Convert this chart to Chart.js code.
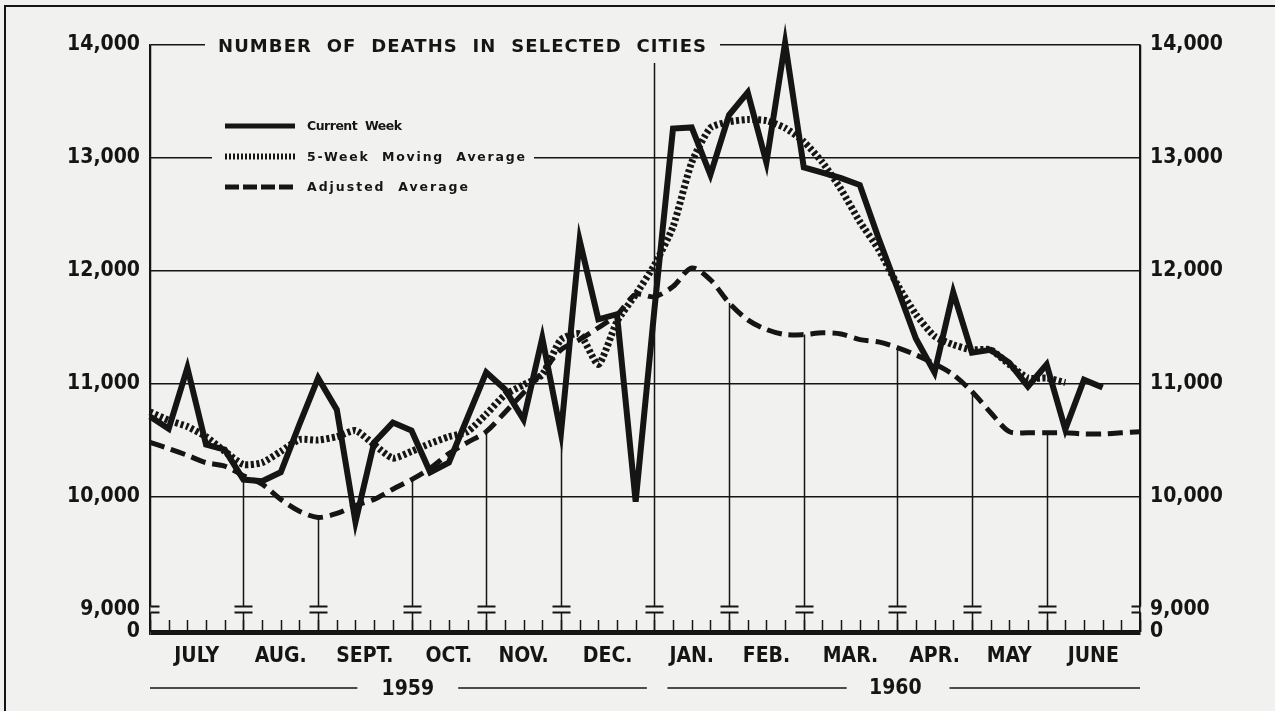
<!DOCTYPE html>
<html lang="en">
<head>
<meta charset="UTF-8">
<title>Number of Deaths in Selected Cities</title>
<script src="https://cdn.jsdelivr.net/npm/chart.js"></script>
<style>
  html, body { margin: 0; padding: 0; background: #f1f1ef; }
  #wrap { position: relative; width: 1275px; height: 711px; }
</style>
</head>
<body>
<div id="wrap"><canvas id="deaths" width="1275" height="711"></canvas></div>
<script>
// weekly values, week 0 = first week of July 1959
const currentWeek = [10710, 10600, 11140, 10460, 10415, 10150, 10135, 10215, 10640, 11050,
  10770, 9775, 10480, 10655, 10585, 10215, 10300, 10700, 11100, 10950,
  10680, 11405, 10560, 12270, 11570, 11615, 9955, 11650, 13260, 13270,
  12850, 13380, 13580, 12960, 14020, 12915, 12870, 12820, 12760, 12290,
  11850, 11400, 11100, 11810, 11275, 11300, 11185, 10975, 11170, 10595,
  11035, 10965];
const movingAvg = [10750, 10675, 10620, 10530, 10400, 10285, 10300, 10400, 10505, 10500,
  10530, 10585, 10460, 10340, 10400, 10470, 10530, 10575, 10730, 10900,
  10990, 11080, 11390, 11440, 11170, 11550, 11790, 12050, 12390, 12960,
  13265, 13320, 13340, 13330, 13265, 13145, 12960, 12720, 12435, 12190,
  11880, 11615, 11420, 11345, 11300, 11300, 11170, 11050, 11050, 11010];
const adjustedAvg = [10480, 10425, 10365, 10300, 10270, 10185, 10110, 9975, 9870, 9815,
  9850, 9920, 9975, 10065, 10150, 10250, 10380, 10480, 10575, 10745,
  10920, 11100, 11300, 11390, 11495, 11610, 11790, 11770, 11860, 12025,
  11920, 11715, 11565, 11480, 11435, 11435, 11450, 11440, 11390, 11370,
  11320, 11255, 11175, 11080, 10930, 10745, 10575, 10565, 10565, 10565,
  10555, 10555, 10565, 10575];

const monthLabels = ['JULY', 'AUG.', 'SEPT.', 'OCT.', 'NOV.', 'DEC.', 'JAN.', 'FEB.', 'MAR.', 'APR.', 'MAY', 'JUNE'];
const monthStarts = [0, 5, 9, 14, 18, 22, 27, 31, 35, 40, 44, 48, 53]; // week index of each month boundary
const yTicks = [8800, 9000, 10000, 11000, 12000, 13000, 14000];    // 8800 = broken-axis "0"
const yearLabels = ['1959', '1960'];

const bg = '#f1f1ef';
const ink = '#151515';
const labelFont = { family: '"Liberation Sans Narrow", "DejaVu Sans Condensed", sans-serif', size: 21, weight: 'bold' };

const monthCenters = monthLabels.map((m, i) => (monthStarts[i] + monthStarts[i + 1]) / 2);
const toPoints = arr => arr.map((v, i) => ({ x: i, y: v }));

function spaced(ctx, text, x, y, width) {
  ctx.letterSpacing = '0px';
  const w = ctx.measureText(text).width;
  ctx.letterSpacing = ((width - w) / (text.length - 1)) + 'px';
  ctx.fillText(text, x, y);
  ctx.letterSpacing = '0px';
}

const decor = {
  id: 'decor',
  beforeDraw(chart) {
    const ctx = chart.ctx;
    ctx.save();
    ctx.fillStyle = bg;
    ctx.fillRect(0, 0, chart.width, chart.height);
    ctx.restore();
  },
  beforeDatasetsDraw(chart) {
    const { ctx, scales: { x, y }, chartArea: a } = chart;
    const base = a.bottom;
    const brk = y.getPixelForValue(9000);
    ctx.save();
    ctx.strokeStyle = ink;
    // weekly ticks along the base
    ctx.lineWidth = 1.5;
    for (let w = 0; w <= 53; w++) {
      const px = Math.round(x.getPixelForValue(w)) + 0.5;
      ctx.beginPath();
      ctx.moveTo(px, base - 12);
      ctx.lineTo(px, base);
      ctx.stroke();
    }
    // month lines: drop from the lowest curve to the base, with a break mark
    monthStarts.forEach(w => {
      const px = Math.round(x.getPixelForValue(w)) + 0.5;
      let top = a.top;
      if (w === 27) top = a.top + 18;
      else if (w > 0 && w < 53) {
        top = 0;
        chart.data.datasets.forEach((d, di) => {
          const el = chart.getDatasetMeta(di).data[w];
          if (el) top = Math.max(top, el.y);
        });
      }
      ctx.lineWidth = 1.5;
      ctx.beginPath();
      ctx.moveTo(px, top);
      ctx.lineTo(px, brk - 3);
      ctx.moveTo(px, brk + 3);
      ctx.lineTo(px, base);
      ctx.stroke();
      const l = w === 0 ? 0 : 9;
      const r = w === 53 ? 0 : 9;
      ctx.lineWidth = 2;
      ctx.beginPath();
      ctx.moveTo(px - l, brk - 3);
      ctx.lineTo(px + r, brk - 3);
      ctx.moveTo(px - l, brk + 3);
      ctx.lineTo(px + r, brk + 3);
      ctx.stroke();
    });
    ctx.restore();
  },
  afterDraw(chart) {
    const { ctx, scales: { x } } = chart;
    ctx.save();
    ctx.strokeStyle = ink;

    // title, knocked out of the top grid line
    ctx.fillStyle = bg;
    ctx.fillRect(205, 32, 515, 28);
    ctx.fillStyle = ink;
    ctx.font = 'bold 18px "DejaVu Sans", sans-serif';
    ctx.textBaseline = 'middle';
    ctx.textAlign = 'left';
    spaced(ctx, 'NUMBER  OF  DEATHS  IN  SELECTED  CITIES', 218, 47, 488);

    // legend
    ctx.fillStyle = bg;
    ctx.fillRect(212, 106, 322, 96);
    ctx.fillStyle = ink;
    const items = [
      { text: 'Current  Week', w: 95, width: 5, dash: [] },
      { text: '5-Week  Moving  Average', w: 218, width: 6, dash: [2, 2] },
      { text: 'Adjusted  Average', w: 161, width: 5, dash: [14, 4] }
    ];
    ctx.font = 'bold 12.5px "DejaVu Sans", sans-serif';
    items.forEach((it, i) => {
      const ly = 126 + i * 30.5;
      ctx.lineWidth = it.width;
      ctx.setLineDash(it.dash);
      ctx.beginPath();
      ctx.moveTo(225, ly);
      ctx.lineTo(295, ly);
      ctx.stroke();
      ctx.setLineDash([]);
      spaced(ctx, it.text, 307, ly + 1, it.w);
    });

    // year rules and labels
    ctx.lineWidth = 1.5;
    const yy = 688;
    const rules = [[0, 11.1], [16.5, 26.6], [27.7, 37.3], [42.8, 53]];
    rules.forEach(([a, b]) => {
      ctx.beginPath();
      ctx.moveTo(x.getPixelForValue(a), yy);
      ctx.lineTo(x.getPixelForValue(b), yy);
      ctx.stroke();
    });
    ctx.font = 'bold 21px ' + labelFont.family;
    ctx.textAlign = 'center';
    ctx.fillText(yearLabels[0], x.getPixelForValue(13.8), 690);
    ctx.fillText(yearLabels[1], x.getPixelForValue(39.9), 689);

    // page frame
    ctx.lineWidth = 2;
    ctx.beginPath();
    ctx.moveTo(5, chart.height);
    ctx.lineTo(5, 6);
    ctx.lineTo(chart.width, 6);
    ctx.stroke();
    ctx.restore();
  }
};

function yAxis(position, width) {
  return {
    type: 'linear',
    position: position,
    min: 8800,
    max: 14000,
    afterBuildTicks: s => { s.ticks = yTicks.map(v => ({ value: v })); },
    afterFit: s => { s.width = width; },
    ticks: {
      padding: 10,
      color: ink,
      font: labelFont,
      callback: v => v === 8800 ? '0' : v.toLocaleString('en-US')
    },
    border: { display: true, color: ink, width: 1.5 },
    grid: {
      display: position === 'left',
      drawTicks: false,
      color: c => (c.tick && c.tick.value === 9000) ? 'rgba(0,0,0,0)' : ink,
      lineWidth: c => (c.tick && c.tick.value === 8800) ? 5 : 1.5
    }
  };
}

new Chart(document.getElementById('deaths'), {
  type: 'line',
  data: {
    datasets: [
      {
        label: 'Current Week',
        data: toPoints(currentWeek),
        borderColor: ink,
        borderWidth: 6,
        borderJoinStyle: 'miter',
        pointRadius: 0,
        tension: 0,
        clip: false
      },
      {
        label: '5-Week Moving Average',
        data: toPoints(movingAvg),
        borderColor: ink,
        borderWidth: 7,
        borderDash: [3, 2.5],
        pointRadius: 0,
        tension: 0.2,
        clip: false
      },
      {
        label: 'Adjusted Average',
        data: toPoints(adjustedAvg),
        borderColor: ink,
        borderWidth: 5,
        borderDash: [15, 7],
        pointRadius: 0,
        tension: 0.3,
        clip: false
      }
    ]
  },
  options: {
    responsive: false,
    animation: false,
    devicePixelRatio: 1,
    layout: { padding: { top: 45, right: 0, bottom: 0, left: 0 } },
    plugins: { legend: { display: false }, tooltip: { enabled: false } },
    scales: {
      x: {
        type: 'linear',
        min: 0,
        max: 53,
        afterBuildTicks: s => { s.ticks = monthCenters.map(v => ({ value: v })); },
        afterFit: s => { s.height = 79; },
        grid: { display: false, drawTicks: false },
        border: { display: false },
        ticks: {
          autoSkip: false,
          maxRotation: 0,
          padding: 12,
          color: ink,
          font: labelFont,
          callback: (v, i) => monthLabels[i]
        }
      },
      y: yAxis('left', 150),
      y2: yAxis('right', 135)
    }
  },
  plugins: [decor]
});
</script>
</body>
</html>
